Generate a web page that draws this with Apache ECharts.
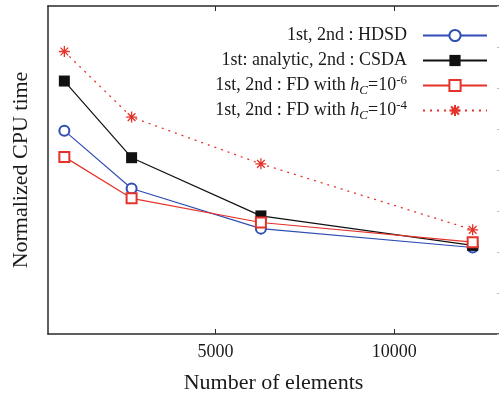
<!DOCTYPE html>
<html>
<head>
<meta charset="utf-8">
<script src="https://cdn.jsdelivr.net/npm/echarts@6/dist/echarts.min.js"></script>
<style>
  html, body { margin: 0; padding: 0; background: #fff; }
  #chart { width: 499px; height: 395px; }
</style>
</head>
<body>
<div id="chart"></div>
<script>
// number of elements (x) and normalized CPU time (y, arbitrary units, no labels shown)
const elements = [777, 2657, 6272, 12192];
const hdsd = [4.96, 3.55, 2.57, 2.11];
const csda = [6.17, 4.30, 2.88, 2.16];
const fd6 = [4.32, 3.31, 2.72, 2.24];
const fd4 = [6.89, 5.29, 4.15, 2.54];
const xTicks = [5000, 10000];

const legendText = {
  hdsd: "1st, 2nd : HDSD",
  csda: "1st: analytic, 2nd : CSDA",
  fd6: "1st, 2nd : FD with {i|h}{sub|C}=10{sup|-6}",
  fd4: "1st, 2nd : FD with {i|h}{sub|C}=10{sup|-4}",
};

const font = "'Liberation Serif', 'DejaVu Serif', serif";
const blue = "#2f4db3";
const red = "#e5332a";
const axisColor = "#2a2a2a";

const pairs = (ys) => elements.map((x, i) => [x, ys[i]]);

const chart = echarts.init(document.getElementById("chart"));

const xBase = {
  type: "value",
  min: 320,
  max: 12928,
  splitLine: { show: false },
  axisLine: { show: true, onZero: false, lineStyle: { color: axisColor, width: 1.5 } },
  axisTick: { inside: true, length: 5, customValues: xTicks, lineStyle: { color: axisColor } },
};

const option = {
  animation: false,
  grid: { left: 48, right: 0, top: 6, bottom: 61, outerBoundsMode: "none" },
  legend: {
    right: 6,
    top: 19,
    orient: "vertical",
    align: "right",
    itemWidth: 64,
    itemHeight: 14,
    itemGap: 2,
    selectedMode: false,
    data: ["hdsd", "csda", "fd6", "fd4"],
    formatter: (name) => legendText[name],
    textStyle: {
      fontFamily: font,
      fontSize: 18,
      color: "#1a1a1a",
      lineHeight: 23,
      padding: [0, 11, 0, 0],
      rich: {
        i: { fontFamily: font, fontSize: 18, fontStyle: "italic", lineHeight: 23 },
        sub: { fontFamily: font, fontSize: 13, fontStyle: "italic", lineHeight: 23, verticalAlign: "bottom", padding: [10, 0, 0, 0] },
        sup: { fontFamily: font, fontSize: 13, lineHeight: 23, verticalAlign: "top", padding: [0, 0, 10, 0] },
      },
    },
  },
  xAxis: [
    Object.assign({}, xBase, {
      position: "bottom",
      name: "Number of elements",
      nameLocation: "middle",
      nameGap: 38,
      nameTextStyle: { fontFamily: font, fontSize: 22, color: "#1a1a1a" },
      axisLabel: {
        customValues: xTicks,
        margin: 9,
        fontFamily: font,
        fontSize: 18,
        color: "#1a1a1a",
        formatter: (v) => String(v),
      },
    }),
    Object.assign({}, xBase, {
      position: "top",
      axisLabel: { show: false },
    }),
  ],
  yAxis: [
    {
      type: "value",
      min: 0,
      max: 8,
      interval: 1,
      position: "left",
      name: "Normalized CPU time",
      nameLocation: "middle",
      nameGap: 16,
      nameTextStyle: { fontFamily: font, fontSize: 22, color: "#1a1a1a" },
      splitLine: { show: false },
      axisLabel: { show: false },
      axisTick: { show: false },
      axisLine: { show: true, lineStyle: { color: axisColor, width: 1.5 } },
    },
    {
      type: "value",
      min: 0,
      max: 8,
      interval: 1,
      position: "right",
      splitLine: { show: false },
      axisLabel: { show: false },
      axisTick: { show: true, inside: true, length: 2, lineStyle: { color: "#bbb" } },
      axisLine: { show: false },
    },
  ],
  series: [
    {
      name: "hdsd",
      type: "line",
      data: pairs(hdsd),
      symbol: "emptyCircle",
      symbolSize: 10,
      itemStyle: { color: blue, borderWidth: 1.2 },
      lineStyle: { color: blue, width: 1.2 },
    },
    {
      name: "csda",
      type: "line",
      data: pairs(csda),
      symbol: "rect",
      symbolSize: 11,
      itemStyle: { color: "#111" },
      lineStyle: { color: "#111", width: 1.2 },
    },
    {
      name: "fd6",
      type: "line",
      data: pairs(fd6),
      symbol: "emptyRect",
      symbolSize: 10,
      itemStyle: { color: red, borderWidth: 1.2 },
      lineStyle: { color: red, width: 1.2 },
    },
    {
      name: "fd4",
      type: "line",
      data: pairs(fd4),
      symbol: "path://M5 0L5 10M0 5L10 5M1.5 1.5L8.5 8.5M1.5 8.5L8.5 1.5",
      symbolSize: 11,
      itemStyle: { color: "none", borderColor: red, borderWidth: 1.3 },
      lineStyle: { color: red, width: 1.3, type: [2, 5] },
    },
  ],
};

chart.setOption(option);
</script>
</body>
</html>
